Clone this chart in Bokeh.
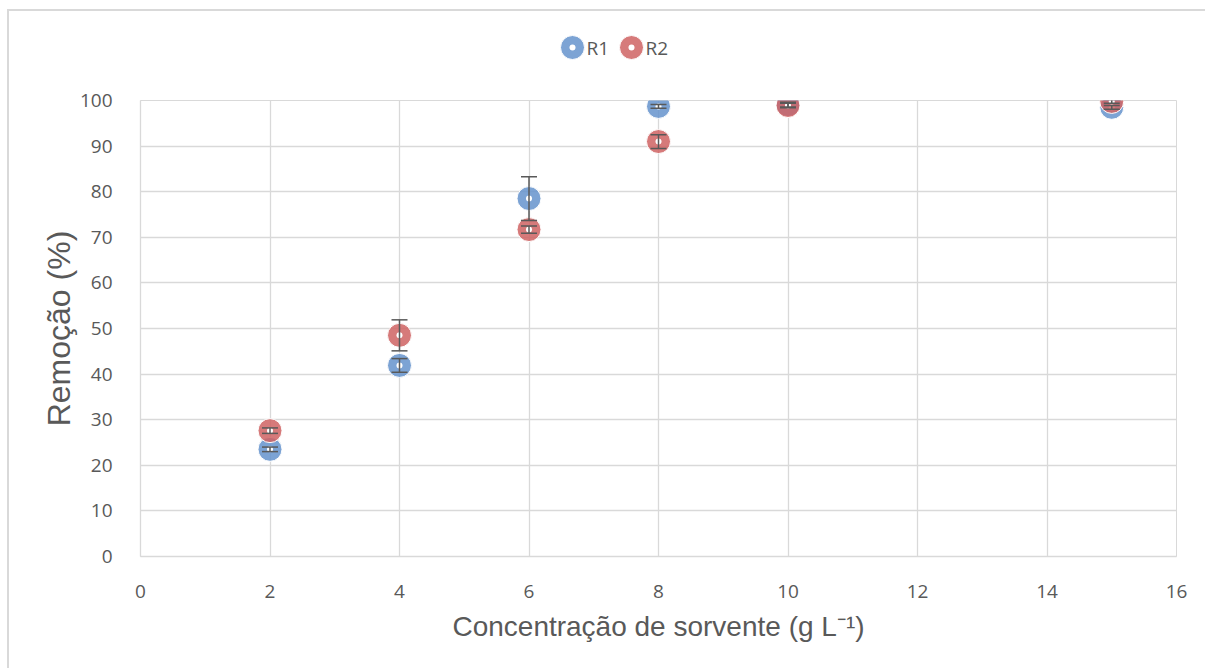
from bokeh.plotting import figure
from bokeh.layouts import column
from bokeh.core.properties import value
from bokeh.models import (ColumnDataSource, Whisker, TeeHead, FixedTicker, Range1d)
from bokeh.embed import file_html
from bokeh.resources import INLINE

# Sorbent concentration (g/L) and removal (%) with standard deviations
conc = [2, 4, 6, 8, 10, 15]
r1 = [23.5, 41.9, 78.5, 98.7, 99.1, 98.5]
r1_err = [0.5, 1.5, 4.8, 0.4, 0.5, 0.4]
r2 = [27.6, 48.5, 71.7, 91.0, 98.9, 99.8]
r2_err = [0.6, 3.4, 0.8, 1.5, 0.5, 0.4]
series = ["R1", "R2"]

x_ticks = [0, 2, 4, 6, 8, 10, 12, 14, 16]
y_ticks = [0, 10, 20, 30, 40, 50, 60, 70, 80, 90, 100]

BLUE = "#6593CD"
RED = "#CF6363"
GRID = "#d9d9d9"
TEXT = "#595959"
W = 1196
BORDER_L, BORDER_R = 131, 29

marker_style = dict(marker="circle_dot", size=24, fill_alpha=0.85,
                    line_color="white", line_width=1)


def make_source(x, y, err):
    return ColumnDataSource(dict(
        x=x, y=y,
        lower=[v - e for v, e in zip(y, err)],
        upper=[v + e for v, e in zip(y, err)],
    ))


src1 = make_source(conc, r1, r1_err)
src2 = make_source(conc, r2, r2_err)

# --- main scatter plot ---
p = figure(width=W, height=583,
           x_range=Range1d(0, 16), y_range=Range1d(0, 100),
           output_backend="svg", toolbar_location=None,
           min_border_left=BORDER_L, min_border_right=BORDER_R,
           min_border_top=15, min_border_bottom=112)
p.outline_line_color = GRID
p.background_fill_color = "white"
p.border_fill_color = "white"

p.xaxis.ticker = FixedTicker(ticks=x_ticks)
p.yaxis.ticker = FixedTicker(ticks=y_ticks)
for g in (p.xgrid, p.ygrid):
    g.grid_line_color = GRID
    g.grid_line_width = 1.3
p.xgrid.ticker = FixedTicker(ticks=x_ticks)
p.ygrid.ticker = FixedTicker(ticks=y_ticks)

for ax in (p.xaxis, p.yaxis):
    ax.axis_line_color = GRID
    ax.axis_line_width = 1.3
    ax.major_tick_line_color = None
    ax.minor_tick_line_color = None
    ax.major_label_text_font = "Open Sans"
    ax.major_label_text_font_size = "19px"
    ax.major_label_text_color = TEXT
    ax.axis_label_text_font = "Liberation Sans"
    ax.axis_label_text_font_style = "normal"
    ax.axis_label_text_color = TEXT

p.xaxis.major_label_standoff = 22
p.yaxis.major_label_standoff = 22
p.xaxis.axis_label = "Concentração de sorvente (g L⁻¹)"
p.yaxis.axis_label = "Remoção (%)"
p.xaxis.axis_label_text_font_size = "28px"
p.yaxis.axis_label_text_font_size = "32px"
p.xaxis.axis_label_standoff = 10
p.yaxis.axis_label_standoff = 0

p.scatter("x", "y", source=src1, fill_color=BLUE, **marker_style)
p.scatter("x", "y", source=src2, fill_color=RED, **marker_style)

for src in (src1, src2):
    w = Whisker(base="x", lower="lower", upper="upper", source=src,
                dimension="height", line_color=TEXT, line_width=1.5,
                level="overlay",
                upper_head=TeeHead(size=16, line_color=TEXT, line_width=1.5),
                lower_head=TeeHead(size=16, line_color=TEXT, line_width=1.5))
    p.add_layout(w)

# --- legend strip above the plot (pixel-scaled ranges) ---
LEG_H = 74
lf = figure(width=W, height=LEG_H,
            x_range=Range1d(0, W - BORDER_L - BORDER_R), y_range=Range1d(0, LEG_H),
            output_backend="svg", toolbar_location=None,
            min_border_left=BORDER_L, min_border_right=BORDER_R,
            min_border_top=0, min_border_bottom=0, outline_line_color=None)
lf.axis.visible = False
lf.grid.visible = False

key_x = [432, 491]
key_y = [38, 38]
keys = ColumnDataSource(dict(x=key_x, y=key_y, color=[BLUE, RED],
                             lx=[x + 14 for x in key_x], label=series))
lf.scatter("x", "y", source=keys, fill_color="color", **marker_style)
lf.text("lx", "y", text="label", source=keys, text_font=value("Open Sans"),
        text_font_size="19px", text_color=TEXT, text_baseline="middle",
        text_align="left")

page = column(lf, p, spacing=0)
page.margin = (9, 0, 0, 7)
page.styles = {"border-top": "2px solid #d9d9d9", "border-left": "2px solid #d9d9d9"}

open("out.html", "w").write(file_html(page, INLINE))
